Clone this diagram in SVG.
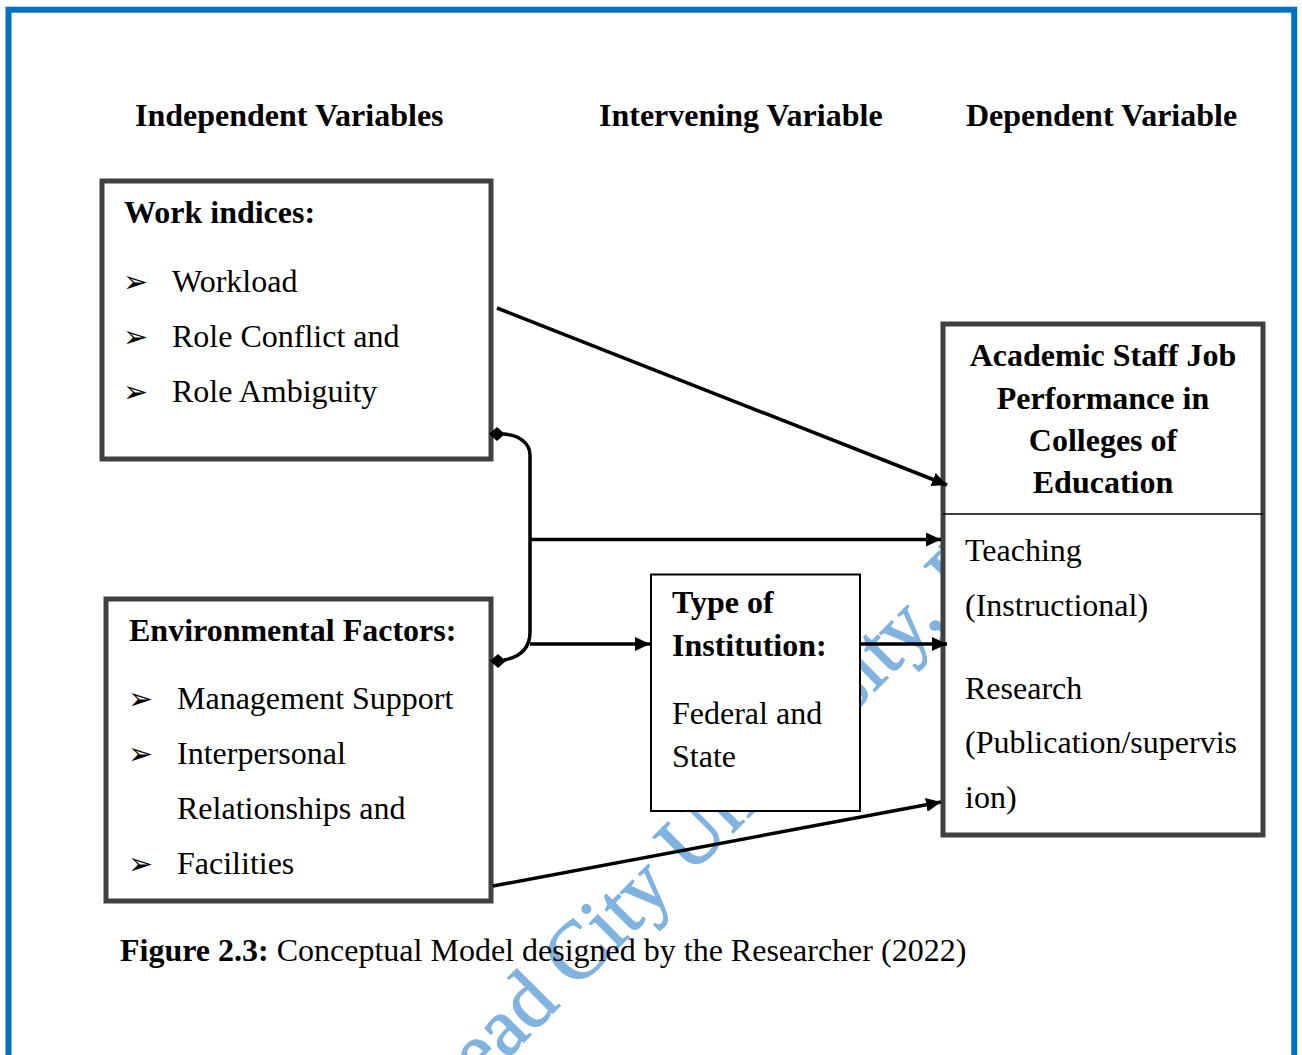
<svg xmlns="http://www.w3.org/2000/svg" width="1302" height="1055" viewBox="0 0 1302 1055">
  <defs>
    <marker id="arrow" markerUnits="userSpaceOnUse" markerWidth="16" markerHeight="16" refX="15" refY="7" orient="auto">
      <path d="M0,0 L15,7 L0,14 Z" fill="#000"/>
    </marker>
    <style>
      text { font-family: "Liberation Serif", "Times New Roman", serif; font-size: 32px; fill: #000; }
      .b { font-weight: bold; }
      .mid { text-anchor: middle; }
      .bullet { font-family: "DejaVu Sans", sans-serif; font-size: 30px; }
      .box { fill: #fff; stroke: #404040; stroke-width: 5; }
      .thin { fill: #fff; stroke: #000; stroke-width: 2; }
      .wire { fill: none; stroke: #000; stroke-width: 3.5; }
      .mark { font-size: 82px; fill: #80B3E0; stroke: #80B3E0; stroke-width: 1.2; }
    </style>
  </defs>

  <rect width="1302" height="1055" fill="#fff"/>

  <!-- page frame -->
  <rect x="8.5" y="9.7" width="1285.7" height="1100" fill="none" stroke="#0070C0" stroke-width="6"/>

  <!-- background watermark -->
  <text class="mark" x="445" y="1121" transform="rotate(-45 445 1121)">Lead City University, Ibadan</text>

  <!-- column headings -->
  <g id="headings">
    <text class="b" x="135" y="125.5">Independent Variables</text>
    <text class="b" x="599" y="125.5">Intervening Variable</text>
    <text class="b" x="966" y="125.5">Dependent Variable</text>
  </g>

  <g id="work-indices">
    <rect class="box" x="102" y="181" width="389" height="278"/>
    <text class="b" x="124" y="223">Work indices:</text>
    <text class="bullet" x="123" y="292">➢</text>
    <text x="172" y="291.7">Workload</text>
    <text class="bullet" x="123" y="347">➢</text>
    <text x="172" y="346.7">Role Conflict and</text>
    <text class="bullet" x="123" y="402">➢</text>
    <text x="172" y="401.7">Role Ambiguity</text>
  </g>

  <g id="environmental-factors">
    <rect class="box" x="106" y="599" width="385" height="302"/>
    <text class="b" x="129" y="640.5">Environmental Factors:</text>
    <text class="bullet" x="128" y="709">➢</text>
    <text x="177" y="709">Management Support</text>
    <text class="bullet" x="128" y="764">➢</text>
    <text x="177" y="764">Interpersonal</text>
    <text x="177" y="819.3">Relationships and</text>
    <text class="bullet" x="128" y="874">➢</text>
    <text x="177" y="874.3">Facilities</text>
  </g>

  <g id="type-of-institution">
    <rect class="thin" x="651" y="574.5" width="209" height="236.5"/>
    <text class="b" x="672" y="613.3">Type of</text>
    <text class="b" x="672" y="656">Institution:</text>
    <text x="672" y="724">Federal and</text>
    <text x="672" y="766.7">State</text>
  </g>

  <g id="job-performance">
    <rect class="box" x="943" y="324" width="320" height="511"/>
    <text class="b mid" x="1103" y="366">Academic Staff Job</text>
    <text class="b mid" x="1103" y="408.5">Performance in</text>
    <text class="b mid" x="1103" y="451">Colleges of</text>
    <text class="b mid" x="1103" y="492.5">Education</text>
    <line x1="943" y1="514" x2="1263" y2="514" stroke="#000" stroke-width="1.5"/>
    <text x="965" y="561">Teaching</text>
    <text x="965" y="616">(Instructional)</text>
    <text x="965" y="698.5">Research</text>
    <text x="965" y="753">(Publication/supervis</text>
    <text x="965" y="808">ion)</text>
  </g>

  <g id="connectors">
    <line class="wire" x1="497" y1="308" x2="947" y2="485" marker-end="url(#arrow)"/>
    <path class="wire" d="M503,434 C519,435 530,443 530,455 L530,632 C530,648 520,657 504,660"/>
    <polygon points="489,434 497,427 505,434 497,441" fill="#000"/>
    <polygon points="490,661 498,654 506,661 498,668" fill="#000"/>
    <line class="wire" x1="530" y1="539.5" x2="941" y2="539.5" marker-end="url(#arrow)"/>
    <line class="wire" x1="530" y1="644" x2="650" y2="644" marker-end="url(#arrow)"/>
    <line class="wire" x1="861" y1="644" x2="947" y2="644" marker-end="url(#arrow)"/>
    <line class="wire" x1="493" y1="886" x2="941" y2="802" marker-end="url(#arrow)"/>
  </g>

  <g id="caption">
    <text x="120" y="961"><tspan class="b">Figure 2.3:</tspan> Conceptual Model designed by the Researcher (2022)</text>
  </g>
</svg>
